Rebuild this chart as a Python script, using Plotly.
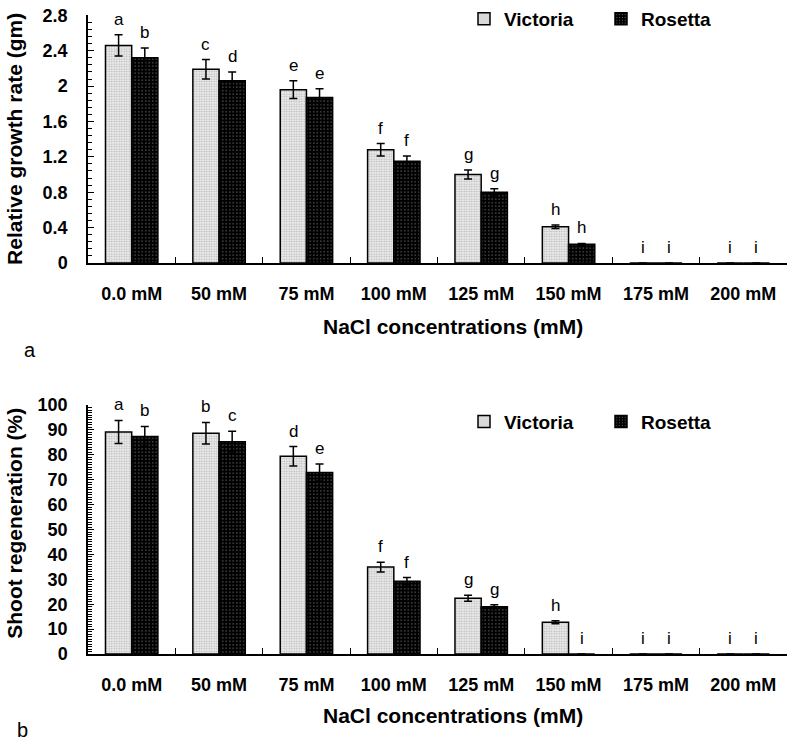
import plotly.graph_objects as go

# ---- data ----
categories = ["0.0 mM", "50 mM", "75 mM", "100 mM", "125 mM", "150 mM", "175 mM", "200 mM"]

rgr_victoria = [2.46, 2.19, 1.96, 1.28, 1.00, 0.41, 0, 0]
rgr_victoria_err = [0.12, 0.11, 0.10, 0.07, 0.05, 0.02, 0, 0]
rgr_rosetta = [2.32, 2.06, 1.87, 1.15, 0.80, 0.21, 0, 0]
rgr_rosetta_err = [0.11, 0.10, 0.10, 0.06, 0.04, 0.01, 0, 0]
rgr_letters_victoria = ["a", "c", "e", "f", "g", "h", "i", "i"]
rgr_letters_rosetta = ["b", "d", "e", "f", "g", "h", "i", "i"]
rgr_ticks = [0, 0.4, 0.8, 1.2, 1.6, 2, 2.4, 2.8]

sr_victoria = [89.2, 88.7, 79.4, 34.9, 22.4, 12.8, 0, 0]
sr_victoria_err = [4.6, 4.3, 3.9, 2.0, 1.2, 0.6, 0, 0]
sr_rosetta = [87.4, 85.3, 72.9, 29.2, 19.0, 0, 0, 0]
sr_rosetta_err = [4.0, 4.2, 3.4, 1.5, 0.8, 0, 0, 0]
sr_letters_victoria = ["a", "b", "d", "f", "g", "h", "i", "i"]
sr_letters_rosetta = ["b", "c", "e", "f", "g", "i", "i", "i"]
sr_ticks = [0, 10, 20, 30, 40, 50, 60, 70, 80, 90, 100]

FONT = "Liberation Sans, Arial, sans-serif"
W, H = 787, 741

vic_pattern = dict(shape=".", fgcolor="#808080", bgcolor="#eeeeee", size=2.5, solidity=0.4)
ros_pattern = dict(shape=".", fgcolor="#ffffff", bgcolor="#000000", size=3.5, solidity=0.12)


def bar(name, y, err, xa, ya, pattern, color, legend):
    return go.Bar(
        name=name, x=list(range(len(categories))), y=y,
        xaxis=xa, yaxis=ya, legend=legend,
        marker=dict(color=color, pattern=pattern, line=dict(color="black", width=1.5)),
        error_y=dict(type="data", array=err, color="black", thickness=1.5, width=4),
    )


fig = go.Figure()
fig.add_trace(bar("Victoria", rgr_victoria, rgr_victoria_err, "x", "y", vic_pattern, "#eeeeee", "legend"))
fig.add_trace(bar("Rosetta", rgr_rosetta, rgr_rosetta_err, "x", "y", ros_pattern, "#000000", "legend"))
fig.add_trace(bar("Victoria", sr_victoria, sr_victoria_err, "x2", "y2", vic_pattern, "#eeeeee", "legend2"))
fig.add_trace(bar("Rosetta", sr_rosetta, sr_rosetta_err, "x2", "y2", ros_pattern, "#000000", "legend2"))

annotations = []
off = 0.15


def add_letters(vals, errs, letters, sign, xr, yr):
    for i, (v, e, t) in enumerate(zip(vals, errs, letters)):
        annotations.append(dict(
            x=i + sign * off, y=v + e, xref=xr, yref=yr, text=t, showarrow=False,
            yanchor="bottom", yshift=4, font=dict(family=FONT, size=17, color="black")))


add_letters(rgr_victoria, rgr_victoria_err, rgr_letters_victoria, -1, "x", "y")
add_letters(rgr_rosetta, rgr_rosetta_err, rgr_letters_rosetta, 1, "x", "y")
add_letters(sr_victoria, sr_victoria_err, sr_letters_victoria, -1, "x2", "y2")
add_letters(sr_rosetta, sr_rosetta_err, sr_letters_rosetta, 1, "x2", "y2")

title_font = dict(family=FONT, size=21, color="black", weight="bold")
for txt, x, y, ang in [
    ("NaCl concentrations (mM)", 453, 323, 0),
    ("NaCl concentrations (mM)", 453, 715, 0),
    ("Relative growth rate (gm)", 15, 134, -90),
    ("Shoot regeneration (%)", 15, 522, -90),
]:
    annotations.append(dict(x=x / W, y=1 - y / H, xref="paper", yref="paper", text=txt,
                            showarrow=False, textangle=ang, font=title_font,
                            xanchor="center", yanchor="middle"))
for txt, x, y in [("a", 30, 347), ("b", 22, 730)]:
    annotations.append(dict(x=x / W, y=1 - y / H, xref="paper", yref="paper", text=txt,
                            showarrow=False, font=dict(family=FONT, size=20, color="black"),
                            xanchor="center", yanchor="middle"))

xdom = [88 / W, 1.0]
bounds = [i + 0.5 for i in range(len(categories) - 1)]
xcommon = dict(
    domain=xdom, range=[-0.5, 7.5], tickmode="array",
    tickvals=list(range(len(categories))), ticktext=categories,
    showline=True, linecolor="black", linewidth=1.5, ticks="", showgrid=False,
    zeroline=False, tickfont=dict(family=FONT, size=18, color="black", weight="bold"),
    ticklabelstandoff=14, automargin=False, ticklabeloverflow="allow",
    minor=dict(tickmode="array", tickvals=bounds, ticks="inside", ticklen=6,
               tickwidth=1.2, tickcolor="black", showgrid=False),
)
ycommon = dict(
    showline=True, linecolor="black", linewidth=1.5, ticks="inside", ticklen=6,
    tickwidth=1.2, tickcolor="black", showgrid=False, zeroline=False,
    tickfont=dict(family=FONT, size=18, color="black", weight="bold"),
    ticklabelstandoff=15, automargin=False, tickmode="array", ticklabeloverflow="allow",
)

legend_font = dict(family=FONT, size=19, color="black", weight="bold")
fig.update_layout(
    width=W, height=H, margin=dict(l=0, r=0, t=0, b=0),
    paper_bgcolor="white", plot_bgcolor="white",
    barmode="group", bargap=0.4, bargroupgap=0,
    xaxis=dict(**xcommon, anchor="y"),
    xaxis2=dict(**xcommon, anchor="y2"),
    yaxis=dict(**ycommon, domain=[1 - 259 / H, 1 - 9.5 / H], range=[0, 2.8], tickvals=rgr_ticks,
               anchor="x", minor=dict(dtick=0.08, tick0=0, ticks="inside", ticklen=4,
                                      tickwidth=1, tickcolor="black", showgrid=False)),
    yaxis2=dict(**ycommon, domain=[1 - 653.3 / H, 1 - 402.3 / H], range=[0, 100], tickvals=sr_ticks,
                anchor="x2", minor=dict(dtick=1, tick0=0, ticks="inside", ticklen=4,
                                        tickwidth=1, tickcolor="black", showgrid=False)),
    legend=dict(orientation="h", x=464 / W, y=1 - 13 / H, xanchor="left", yanchor="middle",
                font=legend_font, bgcolor="rgba(0,0,0,0)", entrywidth=92, entrywidthmode="pixels"),
    legend2=dict(orientation="h", x=464 / W, y=1 - 419 / H, xanchor="left", yanchor="middle",
                 font=legend_font, bgcolor="rgba(0,0,0,0)", entrywidth=92, entrywidthmode="pixels"),
    annotations=annotations,
    showlegend=True,
)

fig.write_html("out.html", config={"displayModeBar": False},
               post_script="document.body.style.margin='0';")
